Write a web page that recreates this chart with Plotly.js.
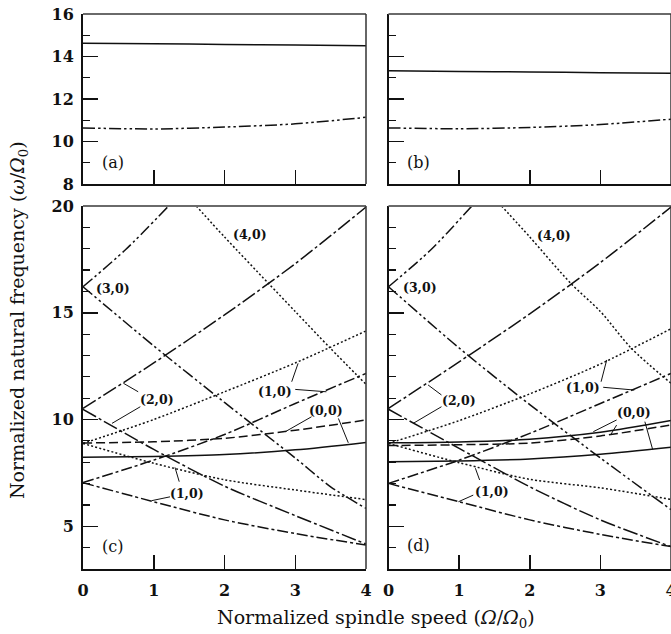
<!DOCTYPE html>
<html>
<head>
<meta charset="utf-8">
<script src="https://cdn.plot.ly/plotly-3.0.1.min.js"></script>
<style>html,body{margin:0;padding:0;background:#fff;}#chart{width:671px;height:634px;}</style>
</head>
<body>
<div id="chart"></div>
<script>
// ---------- data ----------
var speed = [0, 1, 2, 3, 4];

// panel (a)
var a_solid = [14.62, 14.60, 14.57, 14.54, 14.51];
var a_dashdotdot = [10.64, 10.59, 10.68, 10.83, 11.14];
// panel (b)
var b_solid = [13.33, 13.30, 13.27, 13.24, 13.21];
var b_dashdotdot = [10.64, 10.60, 10.66, 10.80, 11.05];

// panel (c)
var c_00_solid = [8.23, 8.27, 8.36, 8.58, 8.93];
var c_00_dash = [8.90, 8.96, 9.12, 9.50, 9.98];
var c_10_dot_up = [8.88, 10.00, 11.30, 12.65, 14.15];
var c_10_dot_down = [8.88, 7.95, 7.18, 6.70, 6.25];
var c_10_dd_up = [7.05, 8.10, 9.30, 10.75, 12.16];
var c_10_dd_down = [7.04, 6.15, 5.30, 4.66, 4.12];
var c_20_up = [10.52, 12.65, 14.90, 17.30, 19.95];
var c_20_down = [10.48, 8.60, 6.88, 5.50, 4.17];
var c_30_up_x = [0, 0.6, 1.21];
var c_30_up = [16.22, 17.95, 20.0];
var c_30_down_x = [0, 1, 2, 3, 3.5, 4];
var c_30_down = [16.22, 13.45, 10.80, 8.20, 6.85, 5.84];
var c_40_down_x = [1.6, 2, 2.62, 3, 3.49, 4];
var c_40_down = [20.0, 18.55, 16.38, 15.06, 13.36, 11.65];

// panel (d)
var d_00_solid_hi = [8.91, 8.95, 9.08, 9.40, 9.95];
var d_00_dash = [8.78, 8.82, 8.90, 9.23, 9.75];
var d_00_solid_lo = [8.02, 8.06, 8.15, 8.37, 8.70];
var d_10_dot_up = [8.88, 9.95, 11.20, 12.60, 14.25];
var d_10_dot_down = [8.88, 7.98, 7.20, 6.80, 6.26];
var d_10_dd_up = [7.01, 8.10, 9.35, 10.75, 12.16];
var d_10_dd_down = [7.01, 6.15, 5.30, 4.62, 4.05];
var d_20_up = [10.52, 12.70, 14.95, 17.35, 19.95];
var d_20_down = [10.48, 8.65, 6.85, 5.30, 4.05];
var d_30_up_x = [0, 0.6, 1.18];
var d_30_up = [16.22, 17.95, 20.0];
var d_30_down = [16.22, 13.35, 10.70, 8.20, 5.78];
var d_40_down_x = [1.6, 2, 2.58, 3, 3.44, 4];
var d_40_down = [20.0, 18.55, 16.38, 15.06, 13.33, 11.70];

// curve labels [text, x, y]
var c_labels = [["(4,0)", 2.36, 18.67], ["(3,0)", 0.43, 16.15], ["(2,0)", 1.04, 10.94],
                ["(1,0)", 2.71, 11.30], ["(0,0)", 3.44, 10.41], ["(1,0)", 1.47, 6.54]];
var d_labels = [["(4,0)", 2.34, 18.64], ["(3,0)", 0.45, 16.19], ["(2,0)", 1.00, 10.91],
                ["(1,0)", 2.75, 11.51], ["(0,0)", 3.48, 10.32], ["(1,0)", 1.46, 6.62]];
// leader lines [x0, y0, x1, y1]
var c_leaders = [[0.78, 11.30, 0.57, 11.70], [0.81, 10.60, 0.41, 9.82], [2.95, 11.77, 3.04, 12.63],
                 [3.00, 11.41, 3.44, 11.30], [3.23, 10.13, 2.86, 9.43], [3.61, 10.05, 3.75, 8.91],
                 [1.36, 7.09, 1.30, 7.76], [1.23, 6.38, 0.97, 6.20]];
var d_leaders = [[0.75, 11.15, 0.56, 11.62], [0.75, 10.60, 0.35, 9.82], [3.01, 11.77, 3.09, 12.79],
                 [3.04, 11.51, 3.48, 11.38], [3.23, 9.98, 2.90, 9.43], [3.23, 9.74, 3.15, 9.31],
                 [3.63, 9.90, 3.74, 8.60], [1.29, 7.17, 1.23, 7.72], [1.20, 6.46, 0.99, 6.15]];
var panel_labels = [["(a)", "x", "y", 8.99], ["(b)", "x2", "y2", 8.99], ["(c)", "x3", "y3", 4.04], ["(d)", "x4", "y4", 4.08]];

// ---------- styles ----------
var INK = '#111';
var S = {
  solid: 'solid',
  dash: '9px,4px',
  dot: '2px,2.2px',
  dashdot: '11px,3px,3px,3px',
  longdashdot: '15px,3px,3px,3px',
  dashdotdot: '12px,3px,2.5px,3px,2.5px,3px'
};
function tr(x, y, dash, xa, ya) {
  return {x: x, y: y, xaxis: xa, yaxis: ya, mode: 'lines', hoverinfo: 'skip',
          line: {color: INK, width: 1.5, dash: dash, shape: 'spline', smoothing: 0.8}};
}
var data = [
  tr(speed, a_solid, S.solid, 'x', 'y'),
  tr(speed, a_dashdotdot, S.dashdotdot, 'x', 'y'),
  tr(speed, b_solid, S.solid, 'x2', 'y2'),
  tr(speed, b_dashdotdot, S.dashdotdot, 'x2', 'y2'),

  tr(speed, c_00_solid, S.solid, 'x3', 'y3'),
  tr(speed, c_00_dash, S.dash, 'x3', 'y3'),
  tr(speed, c_10_dot_up, S.dot, 'x3', 'y3'),
  tr(speed, c_10_dot_down, S.dot, 'x3', 'y3'),
  tr(speed, c_10_dd_up, S.dashdot, 'x3', 'y3'),
  tr(speed, c_10_dd_down, S.dashdot, 'x3', 'y3'),
  tr(speed, c_20_up, S.longdashdot, 'x3', 'y3'),
  tr(speed, c_20_down, S.longdashdot, 'x3', 'y3'),
  tr(c_30_up_x, c_30_up, S.dashdotdot, 'x3', 'y3'),
  tr(c_30_down_x, c_30_down, S.dashdotdot, 'x3', 'y3'),
  tr(c_40_down_x, c_40_down, S.dot, 'x3', 'y3'),

  tr(speed, d_00_solid_hi, S.solid, 'x4', 'y4'),
  tr(speed, d_00_dash, S.dash, 'x4', 'y4'),
  tr(speed, d_00_solid_lo, S.solid, 'x4', 'y4'),
  tr(speed, d_10_dot_up, S.dot, 'x4', 'y4'),
  tr(speed, d_10_dot_down, S.dot, 'x4', 'y4'),
  tr(speed, d_10_dd_up, S.dashdot, 'x4', 'y4'),
  tr(speed, d_10_dd_down, S.dashdot, 'x4', 'y4'),
  tr(speed, d_20_up, S.longdashdot, 'x4', 'y4'),
  tr(speed, d_20_down, S.longdashdot, 'x4', 'y4'),
  tr(d_30_up_x, d_30_up, S.dashdotdot, 'x4', 'y4'),
  tr(speed, d_30_down, S.dashdotdot, 'x4', 'y4'),
  tr(d_40_down_x, d_40_down, S.dot, 'x4', 'y4')
];

// ---------- layout ----------
var W = 671, H = 634;
var colL = [83 / W, 366 / W], colR = [388.5 / W, 1];
var rowT = [1 - 184 / H, 1 - 14 / H], rowB = [1 - 569 / H, 1 - 206 / H];
var FONT = 'DejaVu Serif';
var tickFont = {family: FONT, size: 16, color: INK, weight: 'bold'};

function xax(domain, anchor, labels) {
  return {domain: domain, anchor: anchor, range: [0, 4], dtick: 1, tick0: 0,
          ticks: 'inside', ticklen: 14, tickwidth: 1.5, tickcolor: INK,
          showticklabels: labels, tickfont: tickFont, ticklabelstandoff: 6, ticklabeloverflow: 'allow',
          showline: true, linecolor: INK, linewidth: 2, showgrid: false, zeroline: false, fixedrange: true};
}
function yax(domain, anchor, range, dtick, labels) {
  return {domain: domain, anchor: anchor, range: range, dtick: dtick, tick0: 0,
          ticks: 'inside', ticklen: 15, tickwidth: 1.5, tickcolor: INK,
          minor: {dtick: 1, tick0: 0, ticks: 'inside', ticklen: 7, tickwidth: 1.2, tickcolor: INK},
          showticklabels: labels, tickfont: tickFont, ticklabelstandoff: 4,
          showline: true, linecolor: INK, linewidth: 2, showgrid: false, zeroline: false, fixedrange: true};
}

var annotations = [];
function addLabels(list, xa, ya) {
  list.forEach(function (l) {
    annotations.push({text: l[0], x: l[1], y: l[2], xref: xa, yref: ya, showarrow: false,
                      xanchor: 'center', yanchor: 'middle',
                      font: {family: FONT, size: 12.5, color: INK, weight: 'bold'}});
  });
}
addLabels(c_labels, 'x3', 'y3');
addLabels(d_labels, 'x4', 'y4');
panel_labels.forEach(function (p) {
  annotations.push({text: p[0], x: 0.24, y: p[3], xref: p[1], yref: p[2], showarrow: false,
                    xanchor: 'left', yanchor: 'middle',
                    font: {family: FONT, size: 16, color: INK}});
});
annotations.push({text: 'Normalized natural frequency (<i>ω</i>/<i>Ω</i><sub>0</sub>)',
                  x: 18 / W, y: 1 - 320 / H, xref: 'paper', yref: 'paper', showarrow: false,
                  textangle: -90, xanchor: 'center', yanchor: 'middle',
                  font: {family: FONT, size: 19, color: INK}});
annotations.push({text: 'Normalized spindle speed (<i>Ω</i>/<i>Ω</i><sub>0</sub>)',
                  x: 376 / W, y: 1 - 618 / H, xref: 'paper', yref: 'paper', showarrow: false,
                  xanchor: 'center', yanchor: 'middle',
                  font: {family: FONT, size: 19, color: INK}});

var shapes = [];
function addLeaders(list, xa, ya) {
  list.forEach(function (s) {
    shapes.push({type: 'line', xref: xa, yref: ya, x0: s[0], y0: s[1], x1: s[2], y1: s[3],
                 line: {color: INK, width: 1}});
  });
}
addLeaders(c_leaders, 'x3', 'y3');
addLeaders(d_leaders, 'x4', 'y4');
[['x', 'y'], ['x2', 'y2'], ['x3', 'y3'], ['x4', 'y4']].forEach(function (p) {
  shapes.push({type: 'line', xref: p[0] + ' domain', yref: p[1] + ' domain', x0: 0, x1: 1, y0: 1, y1: 1,
               line: {color: '#6a6a6a', width: 2}});
  shapes.push({type: 'line', xref: p[0] + ' domain', yref: p[1] + ' domain', x0: 1, x1: 1, y0: 0, y1: 1,
               line: {color: '#333', width: 1.5}});
});

var layout = {
  width: W, height: H, margin: {l: 0, r: 0, t: 0, b: 0},
  paper_bgcolor: '#fff', plot_bgcolor: '#fff', showlegend: false,
  font: {family: FONT, color: INK},
  xaxis: xax(colL, 'y', false),
  yaxis: yax(rowT, 'x', [8, 16], 2, true),
  xaxis2: xax(colR, 'y2', false),
  yaxis2: yax(rowT, 'x2', [8, 16], 2, false),
  xaxis3: xax(colL, 'y3', true),
  yaxis3: yax(rowB, 'x3', [3, 20], 5, true),
  xaxis4: xax(colR, 'y4', true),
  yaxis4: yax(rowB, 'x4', [3, 20], 5, false),
  annotations: annotations,
  shapes: shapes
};

Plotly.newPlot('chart', data, layout, {staticPlot: true, displayModeBar: false});
</script>
</body>
</html>
